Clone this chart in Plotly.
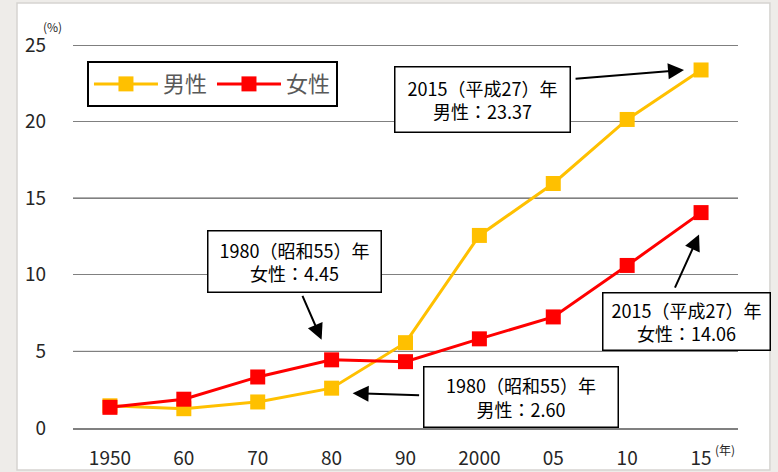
import plotly.graph_objects as go

years = ["1950", "60", "70", "80", "90", "2000", "05", "10", "15"]
male = [1.45, 1.26, 1.70, 2.60, 5.57, 12.57, 15.96, 20.14, 23.37]
female = [1.35, 1.88, 3.33, 4.45, 4.33, 5.82, 7.25, 10.61, 14.06]
y_ticks = [0, 5, 10, 15, 20, 25]

callout_male_2015 = "2015（平成27）年<br>男性：23.37"
callout_female_1980 = "1980（昭和55）年<br>女性：4.45"
callout_male_1980 = "1980（昭和55）年<br>男性：2.60"
callout_female_2015 = "2015（平成27）年<br>女性：14.06"

FONT = "Noto Sans CJK JP"
MALE_C = "#FFC000"
FEMALE_C = "#FF0000"
BG = "#eeece9"

fig = go.Figure()
fig.add_trace(go.Scatter(x=years, y=male, name="男性", mode="lines+markers",
                         line=dict(color=MALE_C, width=3),
                         marker=dict(symbol="square", size=15, color=MALE_C)))
fig.add_trace(go.Scatter(x=years, y=female, name="女性", mode="lines+markers",
                         line=dict(color=FEMALE_C, width=3),
                         marker=dict(symbol="square", size=15, color=FEMALE_C)))

shapes = [dict(type="rect", xref="paper", yref="paper", x0=-0.0842, x1=1.048,
               y0=-0.1097, y1=1.1097, fillcolor="white",
               line=dict(color="#d6d4d1", width=1.5), layer="below")]
for v in [5, 15, 25]:
    shapes.append(dict(type="line", xref="paper", yref="y", x0=0, x1=1, y0=v, y1=v,
                       line=dict(color="black", width=1), layer="below"))

annotations = []
def box(text, x, y, w, h):
    annotations.append(dict(text=text, xref="paper", yref="paper", x=x, y=y,
                            xanchor="center", yanchor="middle", showarrow=False,
                            width=w, height=h, align="center", valign="middle",
                            bordercolor="black", borderwidth=1.5, borderpad=1,
                            bgcolor="white", font=dict(family=FONT, size=18, color="black")))

def arrow(idx, series, xs, ys, ax, ay):
    # category axis: position by category index
    annotations.append(dict(text="■", x=idx, y=series[idx], xref="x", yref="y",
                            xshift=xs, yshift=ys, ax=ax, ay=ay, showarrow=True,
                            font=dict(size=2, color="rgba(0,0,0,0)"), borderpad=0,
                            arrowhead=2, arrowsize=1.6, arrowwidth=2, arrowcolor="black"))

i2015 = years.index("15")
i1980 = years.index("80")
arrow(i2015, male, -17, 0, -110, 9)
arrow(i1980, female, -10, 20, -20, -46)
arrow(i1980, male, 21, -5, 68, 2)
arrow(i2015, female, -2, -22, -25, 55)

box(callout_male_2015, 0.6165, 0.859, 172, 62)
box(callout_female_1980, 0.3338, 0.436, 170, 58)
box(callout_male_1980, 0.673, 0.0822, 191, 57)
box(callout_female_2015, 0.9233, 0.279, 164, 54)

annotations.append(dict(text="(%)", xref="paper", yref="paper", x=-0.0301, y=1.0496,
                        xanchor="center", yanchor="middle", showarrow=False,
                        font=dict(family=FONT, size=12, color="#262626")))
annotations.append(dict(text="(年)", xref="paper", yref="paper", x=0.981, y=-0.057,
                        xanchor="center", yanchor="middle", showarrow=False,
                        font=dict(family=FONT, size=12, color="#262626")))

fig.update_layout(
    width=778, height=472,
    margin=dict(l=73, r=40, t=45, b=44),
    paper_bgcolor=BG,
    plot_bgcolor="white",
    font=dict(family=FONT, size=19, color="#262626"),
    showlegend=True,
    legend=dict(orientation="h", x=0.021, y=0.958, xanchor="left", yanchor="top",
                bgcolor="white", bordercolor="black", borderwidth=2,
                font=dict(family=FONT, size=22, color="#595959"),
                itemwidth=64, tracegroupgap=0),
    shapes=shapes,
    annotations=annotations,
    xaxis=dict(type="category", range=[-0.5, 8.5], showgrid=False, zeroline=False,
               showline=True, linecolor="#808080", linewidth=1.5, ticks="",
               ticklabelstandoff=12, automargin=False,
               tickfont=dict(family=FONT, size=19, color="#262626")),
    yaxis=dict(range=[0, 25], tickvals=y_ticks, showgrid=True, gridcolor="#808080",
               gridwidth=1, zeroline=False, showline=False, ticks="",
               ticklabelstandoff=26, automargin=False,
               tickfont=dict(family=FONT, size=19, color="#262626")),
)

fig.write_html("out.html", config={"displayModeBar": False},
               post_script="document.body.style.margin='0px';"
                           "document.body.style.background='%s';" % BG)
